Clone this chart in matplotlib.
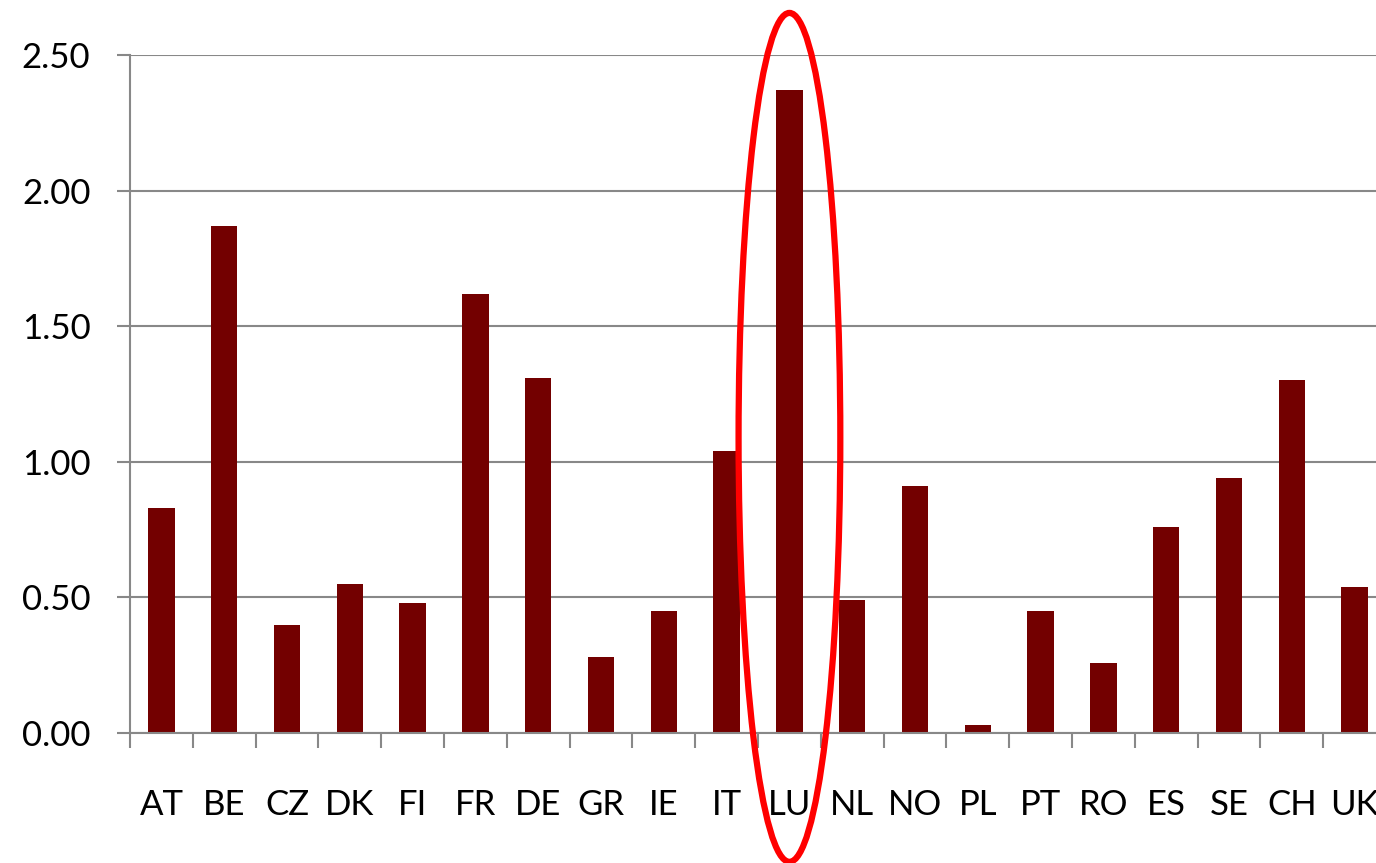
import matplotlib.pyplot as plt
import numpy as np
from matplotlib.patches import Ellipse

# --- Data --------------------------------------------------------------------

COUNTRIES = ["AT", "BE", "CZ", "DK", "FI", "FR", "DE", "GR", "IE", "IT",
             "LU", "NL", "NO", "PL", "PT", "RO", "ES", "SE", "CH", "UK"]
VALUES = [0.83, 1.87, 0.40, 0.55, 0.48, 1.62, 1.31, 0.28, 0.45, 1.04,
          2.37, 0.49, 0.91, 0.03, 0.45, 0.26, 0.76, 0.94, 1.30, 0.54]
HIGHLIGHT = "LU"
Y_TICKS = [0.0, 0.5, 1.0, 1.5, 2.0, 2.5]

# --- Style -------------------------------------------------------------------

BAR_COLOR = "#730000"
GRID_COLOR = "#888888"
FONT = ["Lato", "DejaVu Sans"]

plt.rcParams["font.family"] = FONT

fig = plt.figure(figsize=(13.76, 8.63), dpi=100)
ax = fig.add_axes([0.0945, 0.1506, 0.9128, 0.7857])

x = np.arange(len(COUNTRIES))
ax.bar(x, VALUES, width=0.42, color=BAR_COLOR, zorder=3)

ax.set_xlim(-0.5, len(COUNTRIES) - 0.5)
ax.set_ylim(0, 2.5)

ax.set_yticks(Y_TICKS)
ax.set_yticklabels([f"{v:.2f}" for v in Y_TICKS])
ax.yaxis.grid(True, color=GRID_COLOR, linewidth=1.5, zorder=0)
ax.tick_params(axis="y", length=9.5, width=1.5, color=GRID_COLOR,
               pad=19, labelsize=25)

ax.set_xticks(x)
ax.set_xticklabels(COUNTRIES)
ax.set_xticks(np.arange(len(COUNTRIES) + 1) - 0.5, minor=True)
ax.tick_params(axis="x", which="major", length=0, pad=40, labelsize=25)
ax.tick_params(axis="x", which="minor", length=11, width=1.5, color=GRID_COLOR)

for side in ("top", "right"):
    ax.spines[side].set_visible(False)
for side in ("left", "bottom"):
    ax.spines[side].set_color(GRID_COLOR)
    ax.spines[side].set_linewidth(1.5)
    ax.spines[side].set_zorder(4)

# red ring around the highlighted country
idx = COUNTRIES.index(HIGHLIGHT)
ring = Ellipse((idx, 1.09), width=1.62, height=3.13, fill=False,
               edgecolor="#ff0000", linewidth=4.5, clip_on=False, zorder=5)
ax.add_patch(ring)

fig.savefig("out.png", dpi=100)
